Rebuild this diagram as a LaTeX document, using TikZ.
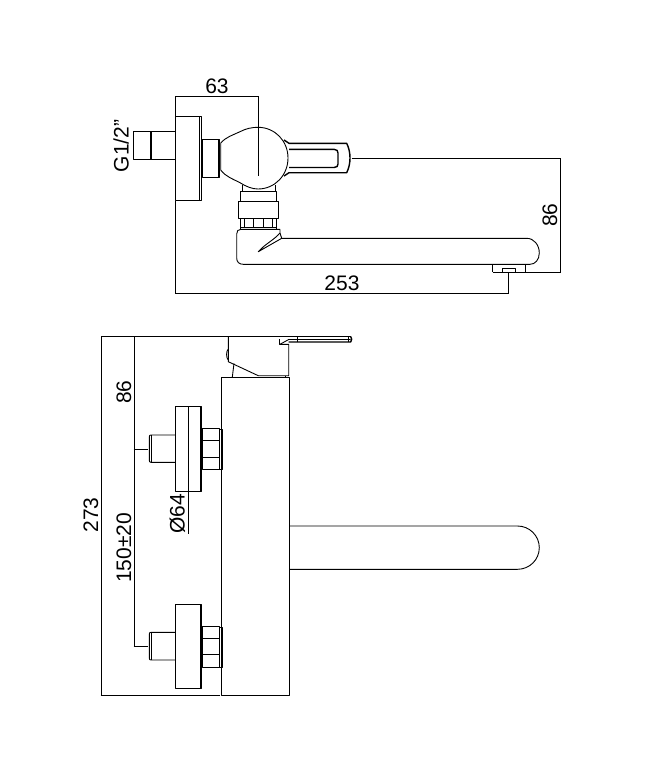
\documentclass[tikz,border=0pt]{standalone}
\usepackage{fontspec}
\setmainfont{Liberation Sans}

\tikzset{
    part/.style={draw, line width=0.9pt, line join=round},
    heavy/.style={draw, line width=1.4pt, line join=round},
    dimline/.style={draw, line width=0.8pt},
    dimlabel/.style={font=\fontsize{21}{23}\selectfont, inner sep=0}
}

\begin{document}
\begin{tikzpicture}[x=1pt, y=-1pt]

\useasboundingbox (0,0) rectangle (667,780);

% Top view: wall connection
\draw[part] (175.5,116) rectangle (201,200.7);
\draw[part] (199,116) -- (199,200.7);
\draw[part] (133,131.7) rectangle (175.5,159.3);
\draw[part] (150,131.7) -- (150,159.3);
\draw[part] (151.5,131.7) -- (151.5,159.3);
\draw[part] (202.3,139.3) rectangle (219.3,177.7);
\draw[part] (218,139.3) -- (218,177.7);

% Top view: body
\draw[part] (220.7,143) .. controls (226,137) and (233,135) .. (240,131.7)
    .. controls (246,128.5) and (252,127.3) .. (258,127.3)
    .. controls (275,127.3) and (288,141) .. (288,158)
    .. controls (288,175) and (275,189) .. (258,189)
    .. controls (252,189) and (246,186.5) .. (240,182.7)
    .. controls (233,179) and (226,177) .. (220.7,170) -- cycle;

% Top view: handle
\draw[heavy] (284,140) -- (289,143.3) -- (346.7,143.3)
    .. controls (349,148) and (350,153) .. (350,158)
    .. controls (350,163) and (349,168) .. (346.7,172.7)
    -- (289,172.7) -- (284,176);
\draw[heavy] (289,149.3) -- (334,149.3)
    .. controls (337,149.3) and (338,151) .. (338,153)
    -- (338,164) .. controls (338,166) and (337,167.5) .. (334,167.5)
    -- (289,167.5);

% Top view: neck
\draw[part] (242.7,185) -- (242.7,191.7);
\draw[part] (275,185) -- (275,191.7);
\draw[part] (240,191.7) rectangle (276.7,201);
\draw[part] (238.3,201) rectangle (278.3,218.3);
\draw[part] (240,218.3) -- (240,229.3);
\draw[part] (276.7,218.3) -- (276.7,229.3);
\draw[part] (244,218.3) rectangle (253.3,227.3);
\draw[part] (263.3,218.3) rectangle (272.7,227.3);
\draw[part] (240,227.3) -- (276.7,227.3);

% Top view: spout
\draw[part] (280,229.3) -- (241,229.3)
    .. controls (238,229.3) and (236.7,231) .. (236.7,234)
    -- (236.7,258) .. controls (236.7,262) and (239,264.3) .. (243.3,264.3)
    -- (530,264.3) .. controls (535,264.3) and (539.3,260) .. (539.3,253)
    .. controls (539.3,245) and (534,238.3) .. (526.7,238.3)
    -- (281.7,238.3) -- (258.3,251.7)
    .. controls (265,244) and (274,240) .. (280,233) -- (280,229.3);
\draw[part] (280,233) -- (281.7,238.3);
\draw[part] (492.7,264.3) -- (492.7,272.3);
\draw[part] (525,264.3) -- (525,272.3);
\draw[heavy] (492.7,272.3) -- (525,272.3);
\draw[part] (502.3,272.3) -- (502.3,268.3) -- (515.7,268.3) -- (515.7,272.3);

% Top view: dimensions
\draw[dimline] (175.5,116) -- (175.5,96) -- (258.3,96) -- (258.3,176);
\draw[dimline] (175.5,200.7) -- (175.5,293.3) -- (508.3,293.3) -- (508.3,272.3);
\draw[dimline] (351.7,158.3) -- (560.7,158.3) -- (560.7,272.3) -- (525,272.3);
\node[dimlabel] (dim63) at (217,86) {63};
\node[dimlabel] (dim253) at (342,283) {253};
\node[dimlabel, rotate=90] (dim86a) at (550,215) {86};
\node[dimlabel, rotate=90] (dimG) at (121,146) {G1/2"};

% Front view: body and spout
\draw[part] (221.7,377.3) rectangle (289.3,695);
\draw[part] (289.3,526) -- (517.5,526)
    .. controls (529.5,526) and (539.3,535.7) .. (539.3,547.7)
    .. controls (539.3,559.7) and (529.5,569.3) .. (517.5,569.3)
    -- (289.3,569.3);

% Front view: lever
\draw[part] (228.3,336.7) -- (228.3,361.7) -- (258.3,375.7) -- (288.7,375.7)
    -- (288.7,344.3) -- (279.5,344.3) -- (279.5,339);
\draw[heavy] (228.3,336.5) -- (350.7,336.5);
\draw[part] (228.3,349) .. controls (226,351) and (226,358) .. (228.3,360);
\draw[part] (234,363.3) -- (232.3,377.3);
\draw[part] (285,375.7) -- (285,377.3);
\draw[part] (280,344.3) -- (288.7,339.5) -- (350.7,339.5);
\draw[heavy] (288.7,342) -- (350.7,342) .. controls (352,341) and (352,337.5) .. (350.7,336.5);
\draw[part] (297.3,336.5) -- (297.3,342);
\draw[part] (348.3,336.5) -- (348.3,342);

% Front view: upper connection
\draw[part] (175.3,406.3) rectangle (201.7,491);
\draw[part] (200.3,406.3) -- (200.3,491);
\draw[part] (188.3,406.3) -- (188.3,534);
\draw[part] (175.3,435) -- (151,435) .. controls (149.8,435) and (149.3,435.5) .. (149.3,437)
    -- (149.3,460.3) .. controls (149.3,461.8) and (149.8,462.3) .. (151,462.3) -- (175.3,462.3);
\draw[part] (151,435) -- (151,462.3);
\draw[part] (202.3,428.3) rectangle (219.3,469.7);
\draw[part] (202.3,440.7) -- (219.3,440.7);
\draw[part] (202.3,457.3) -- (219.3,457.3);
\draw[part] (219.3,429) rectangle (222.3,469);

% Front view: lower connection
\draw[part] (175.3,604.3) rectangle (201.7,688.7);
\draw[part] (200.3,604.3) -- (200.3,688.7);
\draw[part] (175.3,632.3) -- (151,632.3) .. controls (149.8,632.3) and (149.3,632.8) .. (149.3,634.3)
    -- (149.3,658) .. controls (149.3,659.5) and (149.8,660) .. (151,660) -- (175.3,660);
\draw[part] (151,632.3) -- (151,660);
\draw[part] (202.3,626) rectangle (219.3,667.3);
\draw[part] (202.3,638.7) -- (219.3,638.7);
\draw[part] (202.3,654.3) -- (219.3,654.3);
\draw[part] (219.3,627) rectangle (222.3,667);

% Front view: dimensions
\draw[dimline] (228.3,336.7) -- (100.7,336.7);
\draw[dimline] (101.7,336.7) -- (101.7,695);
\draw[dimline] (100.7,695) -- (220,695);
\draw[dimline] (134.3,336.7) -- (134.3,646);
\draw[dimline] (133.5,449) -- (148.3,449);
\draw[dimline] (133.5,646) -- (148.3,646);
\node[dimlabel, rotate=90] (dim86b) at (124,392) {86};
\node[dimlabel, rotate=90] (dim150) at (124,548) {150±20};
\node[dimlabel, rotate=90] (dim273) at (91,515) {273};
\node[dimlabel, rotate=90] (dim64) at (177.5,514) {Ø64};

\end{tikzpicture}
\end{document}
